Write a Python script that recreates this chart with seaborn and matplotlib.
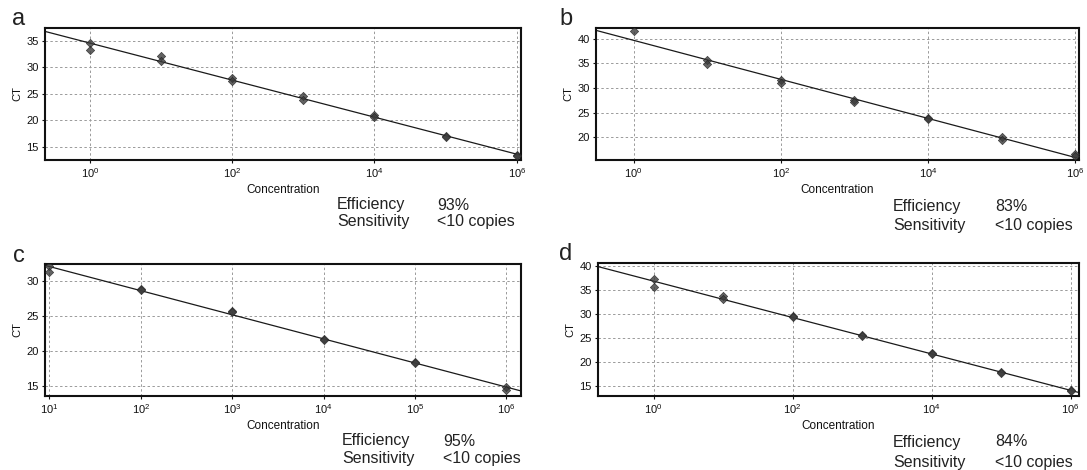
import numpy as np
import pandas as pd
import matplotlib
matplotlib.use("Agg")
import matplotlib.pyplot as plt
import seaborn as sns
from matplotlib.ticker import FixedLocator, FuncFormatter, NullLocator

# qPCR standard curves: template concentration (copies) vs threshold cycle (CT)
conc_a = [1, 1, 1e1, 1e1, 1e2, 1e2, 1e3, 1e3, 1e4, 1e4, 1e5, 1e5, 1e6, 1e6]
ct_a = [34.5, 33.2, 32.2, 31.1, 28.0, 27.4, 24.5, 23.9, 21.0, 20.7, 17.1, 16.9, 13.4, 13.2]

conc_b = [1, 1e1, 1e1, 1e2, 1e2, 1e3, 1e3, 1e4, 1e4, 1e5, 1e5, 1e6, 1e6]
ct_b = [41.5, 35.8, 34.9, 31.6, 31.0, 27.5, 27.2, 23.9, 23.7, 20.0, 19.5, 16.7, 16.3]

conc_c = [1e1, 1e1, 1e2, 1e2, 1e3, 1e3, 1e4, 1e4, 1e5, 1e5, 1e6, 1e6]
ct_c = [32.2, 31.3, 28.9, 28.8, 25.8, 25.6, 21.8, 21.6, 18.5, 18.3, 14.9, 14.4]

conc_d = [1, 1, 1e1, 1e1, 1e2, 1e2, 1e3, 1e3, 1e4, 1e4, 1e5, 1e5, 1e6, 1e6]
ct_d = [37.2, 35.5, 33.7, 33.1, 29.6, 29.3, 25.6, 25.4, 21.8, 21.7, 17.8, 17.6, 14.1, 13.9]

panel_letters = ["a", "b", "c", "d"]
efficiency = ["93%", "83%", "95%", "84%"]
sensitivity = ["<10 copies", "<10 copies", "<10 copies", "<10 copies"]
x_tick_exponents = [[0, 2, 4, 6], [0, 2, 4, 6], [1, 2, 3, 4, 5, 6], [0, 2, 4, 6]]
y_ticks = [[15, 20, 25, 30, 35], [20, 25, 30, 35, 40], [15, 20, 25, 30], [15, 20, 25, 30, 35, 40]]

series = [(conc_a, ct_a), (conc_b, ct_b), (conc_c, ct_c), (conc_d, ct_d)]

# ---- layout (pixel units of the 1087 x 470 canvas) ----
W, H = 1087, 470
axes_px = [(45, 28, 521, 160), (596, 28, 1079, 160),
           (45, 264, 521, 396), (598, 263, 1079, 396)]
xlims = [(-0.63, 6.06), (-0.51, 6.05), (0.953, 6.16), (-0.80, 6.12)]
ylims = [(12.5, 37.4), (15.4, 42.2), (13.6, 32.5), (12.9, 40.6)]
letter_px = [(19, 19), (566, 19), (19, 256), (566, 254)]
info_px = [  # (x label, x value, y first line, y second line)
    (337, 437, 205, 221),
    (893, 995, 206, 225),
    (342, 443, 441, 459),
    (893, 995, 442, 462),
]

sns.set_style("white")
plt.rcParams["font.family"] = ["Liberation Sans", "DejaVu Sans"]
plt.rcParams["mathtext.default"] = "regular"

fig = plt.figure(figsize=(W / 100, H / 100), dpi=100)
fig.patch.set_facecolor("white")


def rect(l, t, r, b):
    return [l / W, 1 - b / H, (r - l) / W, (b - t) / H]


def decade_label(v, pos):
    e = int(round(np.log10(v)))
    return r"$\mathregular{10^{%d}}$" % e


for i, (conc, ct) in enumerate(series):
    ax = fig.add_axes(rect(*axes_px[i]))
    ax.set_xscale("log")
    ax.set_xlim(10 ** xlims[i][0], 10 ** xlims[i][1])
    ax.set_ylim(*ylims[i])

    df = pd.DataFrame({"Concentration": conc, "CT": ct})
    sns.regplot(data=df, x="Concentration", y="CT", ax=ax, logx=True, ci=None,
                truncate=False, marker="D",
                scatter_kws={"s": 18, "color": "#3c3c3c", "edgecolor": "#222222",
                             "linewidths": 0.5, "zorder": 3},
                line_kws={"color": "#1a1a1a", "lw": 0.9, "zorder": 2})

    ax.set_xlim(10 ** xlims[i][0], 10 ** xlims[i][1])
    ax.set_ylim(*ylims[i])

    ax.xaxis.set_major_locator(FixedLocator([10.0 ** e for e in x_tick_exponents[i]]))
    ax.xaxis.set_major_formatter(FuncFormatter(decade_label))
    ax.xaxis.set_minor_locator(NullLocator())
    ax.yaxis.set_major_locator(FixedLocator(y_ticks[i]))

    ax.grid(True, which="major", color="#9a9a9a", linestyle=(0, (2.5, 2.5)), lw=0.7)
    ax.set_axisbelow(True)
    for sp in ax.spines.values():
        sp.set_visible(True)
        sp.set_color("#111111")
        sp.set_linewidth(1.5)

    ax.tick_params(axis="both", which="major", labelsize=8, length=2.5, width=0.8,
                   direction="out", pad=2, colors="#111111", bottom=True, left=True)
    ax.set_xlabel("Concentration", fontsize=8.5, labelpad=3, color="#111111")
    ax.set_ylabel("CT", fontsize=8, labelpad=3, color="#111111")

    lx, ly = letter_px[i]
    fig.text(lx / W, 1 - ly / H, panel_letters[i], fontsize=17, ha="center",
             va="center", color="#222222")

    x1, x2, y1, y2 = info_px[i]
    fig.text(x1 / W, 1 - y1 / H, "Efficiency", fontsize=11.5, va="center", color="#222222")
    fig.text(x2 / W, 1 - y1 / H, efficiency[i], fontsize=11.5, va="center", color="#222222")
    fig.text(x1 / W, 1 - y2 / H, "Sensitivity", fontsize=11.5, va="center", color="#222222")
    fig.text(x2 / W, 1 - y2 / H, sensitivity[i], fontsize=11.5, va="center", color="#222222")

fig.savefig("out.png", dpi=100, facecolor="white")
